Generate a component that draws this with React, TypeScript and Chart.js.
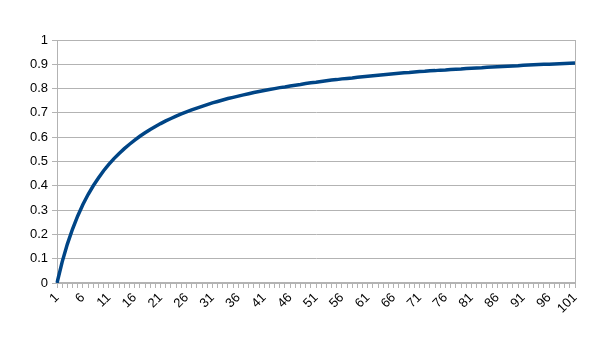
import React, { useEffect, useRef } from "react";
import { Chart, registerables } from "chart.js";

Chart.register(...registerables);

const categories: string[] = Array.from({ length: 101 }, (_, i) => String(i + 1));

const values: number[] = [
  0, 0.087, 0.16, 0.222, 0.276, 0.323, 0.364, 0.4, 0.432, 0.462,
  0.488, 0.512, 0.533, 0.553, 0.571, 0.588, 0.604, 0.618, 0.632, 0.644,
  0.656, 0.667, 0.677, 0.687, 0.696, 0.704, 0.712, 0.72, 0.727, 0.734,
  0.741, 0.747, 0.753, 0.759, 0.764, 0.769, 0.774, 0.779, 0.784, 0.788,
  0.792, 0.796, 0.8, 0.804, 0.807, 0.811, 0.814, 0.817, 0.821, 0.824,
  0.826, 0.829, 0.832, 0.835, 0.837, 0.84, 0.842, 0.844, 0.847, 0.849,
  0.851, 0.853, 0.855, 0.857, 0.859, 0.861, 0.863, 0.865, 0.866, 0.868,
  0.87, 0.871, 0.873, 0.874, 0.876, 0.877, 0.879, 0.88, 0.881, 0.883,
  0.884, 0.885, 0.886, 0.888, 0.889, 0.89, 0.891, 0.892, 0.893, 0.894,
  0.896, 0.897, 0.898, 0.899, 0.9, 0.9, 0.901, 0.902, 0.903, 0.904,
  0.905,
];

const yMin = 0;
const yMax = 1;
const yStep = 0.1;
const labelEvery = 5;

const GRID = "#b3b3b3";

const rightBorder = {
  id: "rightBorder",
  afterDraw(chart: any) {
    const { ctx, chartArea } = chart;
    ctx.save();
    ctx.strokeStyle = GRID;
    ctx.lineWidth = 1;
    ctx.beginPath();
    ctx.moveTo(Math.round(chartArea.right) + 0.5, chartArea.top);
    ctx.lineTo(Math.round(chartArea.right) + 0.5, chartArea.bottom);
    ctx.stroke();
    ctx.restore();
  },
};

export default function App() {
  const ref = useRef<HTMLCanvasElement>(null);

  useEffect(() => {
    document.body.style.margin = "0";
    const canvas = ref.current!;
    const chart = new Chart(canvas, {
      type: "line",
      data: {
        labels: categories,
        datasets: [
          {
            data: values,
            borderColor: "#004586",
            borderWidth: 3.5,
            pointRadius: 0,
            tension: 0,
            fill: false,
          },
        ],
      },
      options: {
        responsive: false,
        animation: false,
        layout: { padding: { top: 40, right: 30, left: 0, bottom: 0 } },
        plugins: { legend: { display: false }, tooltip: { enabled: false } },
        scales: {
          x: {
            offset: false,
            grid: {
              display: true,
              drawOnChartArea: false,
              drawTicks: true,
              tickLength: 5,
              color: GRID,
            },
            border: { color: GRID, width: 2 },
            ticks: {
              autoSkip: false,
              maxRotation: 45,
              minRotation: 45,
              padding: 2,
              color: "#000",
              font: { family: "Liberation Sans", size: 13 },
              callback: (_v: any, i: number) =>
                i % labelEvery === 0 ? categories[i] : "",
            },
            afterFit: (s: any) => {
              s.height = 57;
            },
          },
          y: {
            min: yMin,
            max: yMax,
            grid: { color: GRID, tickLength: 5 },
            border: { color: GRID, width: 1 },
            ticks: {
              stepSize: yStep,
              padding: 4,
              color: "#000",
              font: { family: "Liberation Sans", size: 13 },
              callback: (v: any) => String(Math.round(Number(v) * 10) / 10),
            },
            afterFit: (s: any) => {
              s.width = 57;
            },
          },
        },
      },
      plugins: [rightBorder],
    });
    return () => chart.destroy();
  }, []);

  return <canvas ref={ref} width={605} height={340} style={{ display: "block" }} />;
}
